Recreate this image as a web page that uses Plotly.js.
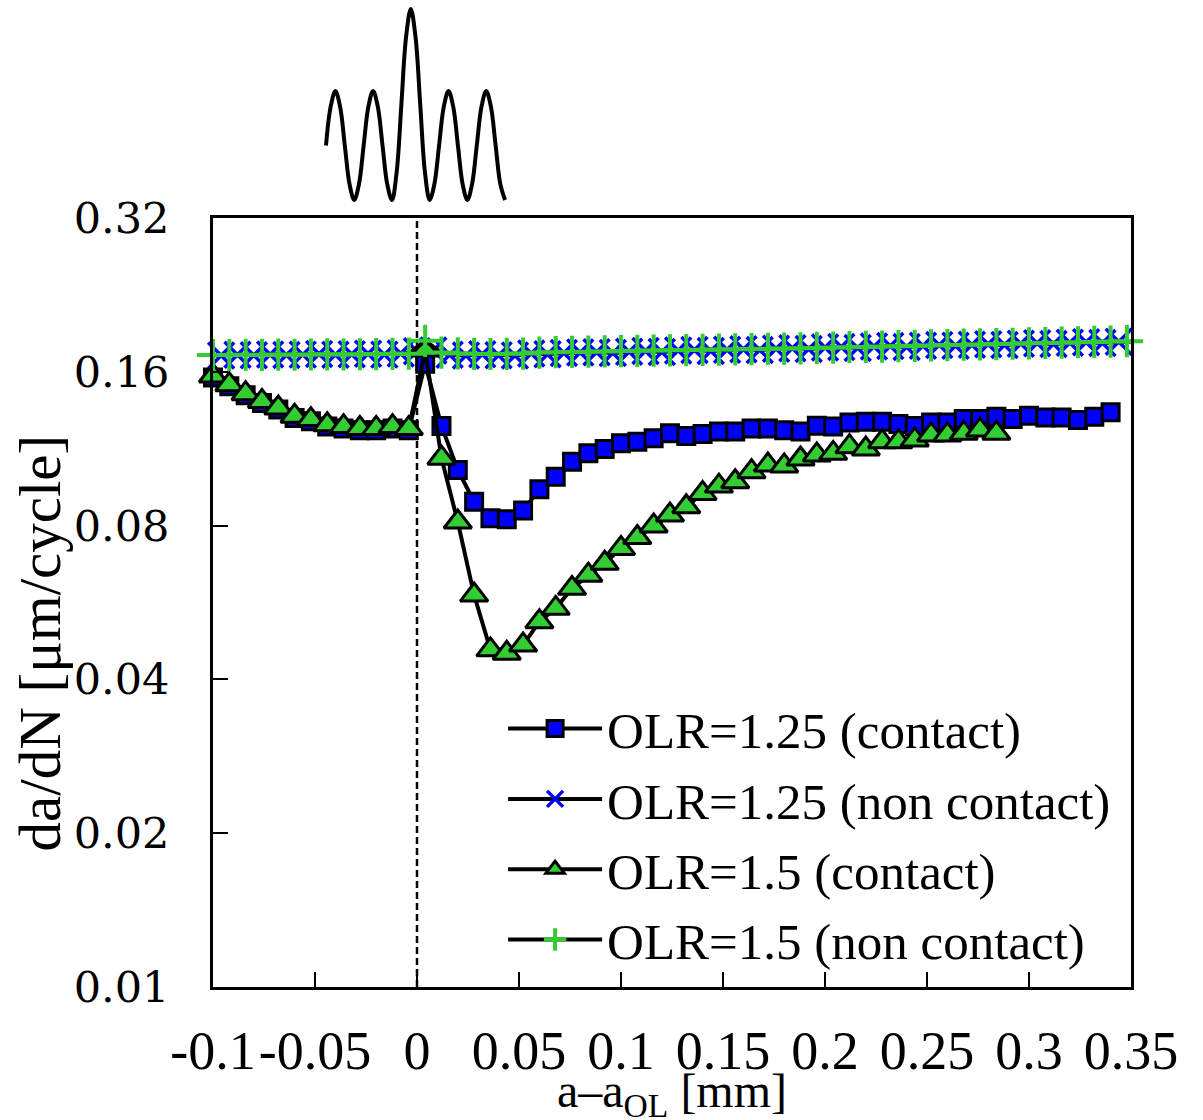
<!DOCTYPE html>
<html>
<head>
<meta charset="utf-8">
<script src="https://cdn.plot.ly/plotly-3.0.1.min.js"></script>
<style>html,body{margin:0;padding:0;background:#fff;}#chart{width:1203px;height:1120px;}</style>
</head>
<body>
<div id="chart"></div>
<script>
// ---- data ----
var xContactLeft = [-0.1, -0.092, -0.084, -0.076, -0.068, -0.06, -0.052, -0.044, -0.036, -0.028, -0.02, -0.012, -0.004, 0.004];

var xSq125 = xContactLeft.concat([0.012, 0.02, 0.028, 0.036, 0.044, 0.052, 0.06, 0.068, 0.076, 0.084, 0.092, 0.1, 0.108, 0.116, 0.124, 0.132, 0.14, 0.148, 0.156, 0.164, 0.172, 0.18, 0.188, 0.196, 0.204, 0.212, 0.22, 0.228, 0.236, 0.244, 0.252, 0.26, 0.268, 0.276, 0.284, 0.292, 0.3, 0.308, 0.316, 0.324, 0.332, 0.34]);
var ySq125 = [0.156, 0.150, 0.144, 0.139, 0.135, 0.130, 0.128, 0.125, 0.124, 0.123, 0.123, 0.124, 0.123, 0.166,
  0.1254, 0.1028, 0.0891, 0.0827, 0.0823, 0.0856, 0.0942, 0.0997, 0.1067, 0.1108, 0.1130, 0.1159, 0.1168, 0.1186, 0.1213, 0.1198, 0.1209, 0.1222, 0.1222, 0.1240, 0.1240, 0.1230, 0.1222, 0.1255, 0.1250, 0.1274, 0.1277, 0.1277, 0.1265, 0.1253, 0.1274, 0.1274, 0.1293, 0.1293, 0.1307, 0.1293, 0.1313, 0.1302, 0.1302, 0.1288, 0.1307, 0.1333];

var xTri15 = xContactLeft.concat([0.012, 0.02, 0.028, 0.036, 0.044, 0.052, 0.06, 0.068, 0.076, 0.084, 0.092, 0.1, 0.108, 0.116, 0.124, 0.132, 0.14, 0.148, 0.156, 0.164, 0.172, 0.18, 0.188, 0.196, 0.204, 0.212, 0.22, 0.228, 0.236, 0.244, 0.252, 0.26, 0.268, 0.276, 0.284]);
var yTri15 = [0.157, 0.151, 0.145, 0.140, 0.136, 0.131, 0.129, 0.126, 0.125, 0.124, 0.124, 0.125, 0.124, 0.1765,
  0.1084, 0.0813, 0.0585, 0.0457, 0.0450, 0.0467, 0.0519, 0.0551, 0.0603, 0.0640, 0.0675, 0.0722, 0.0758, 0.0799, 0.0839, 0.0871, 0.0925, 0.0956, 0.0975, 0.1020, 0.1051, 0.1047, 0.1080, 0.1100, 0.1108, 0.1142, 0.1130, 0.1168, 0.1168, 0.1177, 0.1204, 0.1204, 0.1213, 0.1231, 0.1213];

var xCross125 = [-0.104, -0.096, -0.088, -0.08, -0.072, -0.064, -0.056, -0.048, -0.04, -0.032, -0.024, -0.016, -0.008, 0, 0.008, 0.016, 0.024, 0.032, 0.04, 0.048, 0.056, 0.064, 0.072, 0.08, 0.088, 0.096, 0.104, 0.112, 0.12, 0.128, 0.136, 0.144, 0.152, 0.16, 0.168, 0.176, 0.184, 0.192, 0.2, 0.208, 0.216, 0.224, 0.232, 0.24, 0.248, 0.256, 0.264, 0.272, 0.28, 0.288, 0.296, 0.304, 0.312, 0.32, 0.328, 0.336, 0.344, 0.352];
var yCross125 = [0.1726, 0.1722, 0.1728, 0.1724, 0.1730, 0.1726, 0.1729, 0.1733, 0.1728, 0.1731, 0.1735, 0.1729, 0.1737, 0.1755, 0.1762, 0.1728, 0.1722, 0.1731, 0.1724, 0.1722, 0.1737, 0.1731, 0.1742, 0.1745, 0.1748, 0.1741, 0.1752, 0.1757, 0.1750, 0.1761, 0.1765, 0.1758, 0.1768, 0.1772, 0.1766, 0.1776, 0.1780, 0.1774, 0.1785, 0.1789, 0.1782, 0.1793, 0.1797, 0.1790, 0.1800, 0.1805, 0.1799, 0.1808, 0.1812, 0.1806, 0.1816, 0.1820, 0.1814, 0.1824, 0.1828, 0.1822, 0.1832, 0.1836];

var xPlus15 = xContactLeft.concat([0.012, 0.02, 0.028, 0.036, 0.044, 0.052, 0.06, 0.068, 0.076, 0.084, 0.092, 0.1, 0.108, 0.116, 0.124, 0.132, 0.14, 0.148, 0.156, 0.164, 0.172, 0.18, 0.188, 0.196, 0.204, 0.212, 0.22, 0.228, 0.236, 0.244, 0.252, 0.26, 0.268, 0.276, 0.284, 0.292, 0.3, 0.308, 0.316, 0.324, 0.332, 0.34, 0.348]);
var yPlus15 = [0.1726, 0.1726, 0.1728, 0.1727, 0.1729, 0.1728, 0.1730, 0.1731, 0.1730, 0.1732, 0.1733, 0.1735, 0.1736, 0.1840,
  0.1745, 0.1738, 0.1735, 0.1734, 0.1735, 0.1737, 0.1745, 0.1748, 0.1750, 0.1752, 0.1754, 0.1757, 0.1759, 0.1761, 0.1763, 0.1765, 0.1767, 0.1769, 0.1771, 0.1773, 0.1775, 0.1777, 0.1779, 0.1782, 0.1785, 0.1788, 0.1790, 0.1793, 0.1796, 0.1799, 0.1802, 0.1805, 0.1808, 0.1810, 0.1813, 0.1816, 0.1819, 0.1822, 0.1825, 0.1828, 0.1831, 0.1834, 0.1837];

// schematic load history (cycles, load level)
var waveCycle = [0, 0.125, 0.25, 0.375, 0.5, 0.625, 0.75, 0.875, 1.0, 1.125, 1.25, 1.375, 1.5, 1.625, 1.75, 1.875, 2.0, 2.125, 2.25, 2.375, 2.5, 2.625, 2.75, 2.875, 3.0, 3.125, 3.25, 3.375, 3.5, 3.625, 3.75, 3.875, 4.0, 4.125, 4.25, 4.375, 4.5, 4.625, 4.75];
var waveLoad  = [0, 0.71, 1, 0.71, 0, -0.71, -1, -0.71, 0, 0.71, 1, 0.71, 0, -0.71, -1, -0.49, 0.75, 1.99, 2.5, 1.99, 0.75, -0.49, -1, -0.71, 0, 0.71, 1, 0.71, 0, -0.71, -1, -0.71, 0, 0.71, 1, 0.71, 0, -0.71, -1];

var seriesNames = ["OLR=1.25 (contact)", "OLR=1.25 (non contact)", "OLR=1.5 (contact)", "OLR=1.5 (non contact)"];

var xTickVals = [-0.1, -0.05, 0, 0.05, 0.1, 0.15, 0.2, 0.25, 0.3, 0.35];
var xTickText = ["-0.1", "-0.05", "0", "0.05", "0.1", "0.15", "0.2", "0.25", "0.3", "0.35"];
var yTickVals = [0.01, 0.02, 0.04, 0.08, 0.16, 0.32];
var yTickText = ["0.01", "0.02", "0.04", "0.08", "0.16", "0.32"];
var xTitle = "a–a<sub>OL</sub> [mm]";
var yTitle = "da/dN [μm/cycle]";

// ---- styling ----
var SERIF = "Liberation Serif, Times New Roman, serif";
var BLUE = "#0000ff";
var GREEN = "#33cc33";

var traces = [
  {x: xSq125, y: ySq125, name: seriesNames[0], mode: "lines+markers", legendgroup: "a",
   line: {color: "#000", width: 4},
   marker: {symbol: "square", size: 17, color: BLUE, line: {color: "#000", width: 3}}, cliponaxis: false},
  {x: xCross125, y: yCross125, name: seriesNames[1], mode: "lines+markers", legendgroup: "b",
   line: {color: "#000", width: 4},
   marker: {symbol: "x-thin", size: 26, color: BLUE, line: {color: BLUE, width: 3.5}}, cliponaxis: false},
  {x: xTri15, y: yTri15, name: seriesNames[2], mode: "lines+markers", legendgroup: "c",
   line: {color: "#000", width: 4},
   marker: {symbol: "triangle-up", size: 24, color: GREEN, line: {color: "#000", width: 3}}, cliponaxis: false},
  {x: xPlus15, y: yPlus15, name: seriesNames[3], mode: "lines+markers", legendgroup: "d",
   line: {color: "#000", width: 4},
   marker: {symbol: "cross-thin", size: 23, color: GREEN, line: {color: GREEN, width: 4}}, cliponaxis: false},
  {x: waveCycle, y: waveLoad, xaxis: "x2", yaxis: "y2", mode: "lines", showlegend: false, hoverinfo: "skip",
   line: {color: "#000", width: 4, shape: "spline", smoothing: 1.0}}
];

var layout = {
  width: 1203, height: 1120,
  margin: {l: 213, r: 72, t: 0, b: 133},
  paper_bgcolor: "#fff", plot_bgcolor: "#fff",
  font: {family: SERIF, color: "#000", size: 50},
  showlegend: true,
  legend: {x: 0.316, y: 0.302, xanchor: "left", yanchor: "top", bgcolor: "rgba(0,0,0,0)",
           font: {family: SERIF, size: 51, color: "#000"}, itemwidth: 94, tracegroupgap: 1, itemsizing: "trace"},
  xaxis: {range: [-0.1, 0.35], domain: [0, 1], anchor: "y",
          tickvals: xTickVals, ticktext: xTickText, ticks: "inside", ticklen: 15, tickwidth: 2, tickcolor: "#000",
          showline: true, linewidth: 3, linecolor: "#000", mirror: true, showgrid: false, zeroline: false,
          tickfont: {family: SERIF, size: 54, color: "#000"}, ticklabelstandoff: 14},
  yaxis: {type: "log", range: [-2, Math.log10(0.32)], domain: [0, 0.7791], anchor: "x",
          tickvals: yTickVals, ticktext: yTickText, ticks: "inside", ticklen: 15, tickwidth: 2, tickcolor: "#000",
          showline: true, linewidth: 3, linecolor: "#000", mirror: true, showgrid: false, zeroline: false,
          tickfont: {family: "DejaVu Serif, serif", size: 43, color: "#000"}, ticklabelstandoff: 32},
  xaxis2: {range: [-0.05, 4.8], domain: [0.1210, 0.3202], anchor: "y2", visible: false, fixedrange: true},
  yaxis2: {range: [-1.1, 2.6], domain: [0.7918, 0.9964], anchor: "x2", visible: false, fixedrange: true},
  shapes: [
    {type: "line", xref: "x", yref: "y domain", x0: 0, x1: 0, y0: 0, y1: 1,
     line: {color: "#000", width: 2.5, dash: "7px,4px"}, layer: "below"}
  ],
  annotations: [
    {text: yTitle, xref: "paper", yref: "paper", x: -0.188, y: 0.3485, textangle: -90,
     showarrow: false, xanchor: "center", yanchor: "middle", font: {family: SERIF, size: 59, color: "#000"}},
    {text: xTitle, xref: "paper", yref: "paper", x: 0.5, y: -0.108,
     showarrow: false, xanchor: "center", yanchor: "middle", font: {family: SERIF, size: 48, color: "#000"}}
  ]
};

Plotly.newPlot("chart", traces, layout, {displayModeBar: false, staticPlot: true});
</script>
</body>
</html>
